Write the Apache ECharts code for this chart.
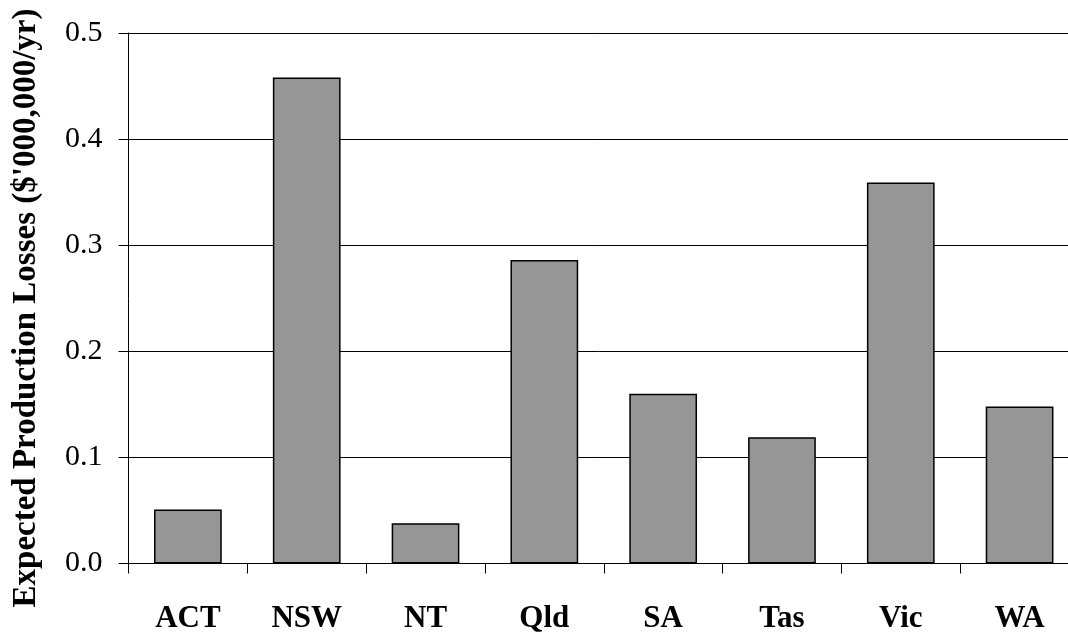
<!DOCTYPE html>
<html>
<head>
<meta charset="utf-8">
<script src="https://cdn.jsdelivr.net/npm/echarts@6/dist/echarts.min.js"></script>
<style>
  html, body { margin: 0; padding: 0; background: #fff; }
  #chart { width: 1068px; height: 639px; }
</style>
</head>
<body>
<div id="chart"></div>
<script>
// Expected production losses by state / territory
const states = ['ACT', 'NSW', 'NT', 'Qld', 'SA', 'Tas', 'Vic', 'WA'];
const losses = [0.051, 0.458, 0.038, 0.286, 0.160, 0.119, 0.359, 0.148];
const yTicks = ['0.0', '0.1', '0.2', '0.3', '0.4', '0.5'];
const yTitle = "Expected Production Losses ($'000,000/yr)";

const serif = '"Liberation Serif", "Times New Roman", serif';

const chart = echarts.init(document.getElementById('chart'), null, { renderer: 'canvas' });

chart.setOption({
  animation: false,
  backgroundColor: '#ffffff',
  // plot area runs slightly past the right edge of the canvas
  grid: {
    left: 128.5, width: 950.5, top: 33, height: 530.5,
    containLabel: false,
    outerBoundsMode: 'none'
  },
  xAxis: {
    type: 'category',
    data: states,
    boundaryGap: true,
    axisLine: { lineStyle: { color: '#000', width: 1 } },
    axisTick: { show: true, inside: false, length: 10, alignWithLabel: false, lineStyle: { color: '#000', width: 1 } },
    axisLabel: {
      margin: 40,
      color: '#000',
      fontFamily: serif,
      fontWeight: 'bold',
      fontSize: 31
    },
    splitLine: { show: false }
  },
  yAxis: {
    type: 'value',
    min: 0,
    max: 0.5,
    interval: 0.1,
    axisLine: { show: true, lineStyle: { color: '#000', width: 1 } },
    axisTick: { show: true, inside: false, length: 10, lineStyle: { color: '#000', width: 1 } },
    axisLabel: {
      margin: 26,
      color: '#000',
      fontFamily: serif,
      fontSize: 30,
      formatter: function (v) { return yTicks[Math.round(v * 10)]; }
    },
    splitLine: { show: true, lineStyle: { color: '#000', width: 1 } }
  },
  graphic: [{
    type: 'text',
    x: 26,
    y: 308,
    rotation: Math.PI / 2,
    style: {
      text: yTitle,
      fill: '#000',
      font: 'bold 33px ' + serif,
      align: 'center',
      verticalAlign: 'middle'
    }
  }],
  series: [{
    type: 'bar',
    data: losses,
    barWidth: '57%',
    itemStyle: { color: '#969696', borderColor: '#000', borderWidth: 1.5 },
    emphasis: { disabled: true }
  }]
});
</script>
</body>
</html>
